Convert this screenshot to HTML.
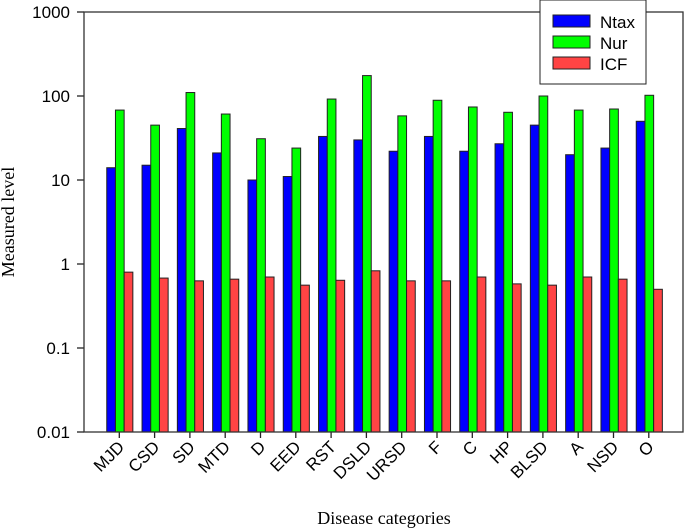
<!DOCTYPE html>
<html><head><meta charset="utf-8"><style>
body{margin:0;background:#fff}
svg{display:block}
</style></head><body>
<svg id="chart" width="685" height="530" xmlns="http://www.w3.org/2000/svg">
<g id="bars"></g>
<g id="axes"></g>
<text x="14" y="222" transform="rotate(-90 14 222)" text-anchor="middle" font-family="Liberation Serif, serif" font-size="18">Measured level</text>
<text x="384" y="524" text-anchor="middle" font-family="Liberation Serif, serif" font-size="18">Disease categories</text>
<g>
<rect x="540" y="0" width="106" height="84" fill="#fff" stroke="#222" stroke-width="1"/>
<rect x="553" y="15" width="37" height="12" fill="#0000ff" stroke="#222"/>
<text x="600" y="28" font-family="Liberation Sans, sans-serif" font-size="17">Ntax</text>
<rect x="553" y="36" width="37" height="12" fill="#00ff00" stroke="#222"/>
<text x="600" y="49" font-family="Liberation Sans, sans-serif" font-size="17">Nur</text>
<rect x="553" y="57" width="37" height="12" fill="#ff4444" stroke="#222"/>
<text x="600" y="70" font-family="Liberation Sans, sans-serif" font-size="17">ICF</text>
</g>
</svg>
<script>
const categories=["MJD","CSD","SD","MTD","D","EED","RST","DSLD","URSD","F","C","HP","BLSD","A","NSD","O"];
const ntax=[14,15,41,21,10,11,33,30,22,33,22,27,45,20,24,50];
const nur=[68,45,110,61,31,24,92,175,58,89,74,64,100,68,70,102];
const icf=[0.8,0.68,0.63,0.66,0.7,0.56,0.64,0.83,0.63,0.63,0.7,0.58,0.56,0.7,0.66,0.5];
const yTicks=[0.01,0.1,1,10,100,1000];
const yTickLabels=["0.01","0.1","1","10","100","1000"];

const NS="http://www.w3.org/2000/svg";
const L=84,R=683,T=12,B=432,step=35.3,bw=8.7;
function y(v){return T+(B-T)*(3-Math.log10(v))/5;}
function xc(i){return L+(i+1)*step;}
function mk(tag,attrs,parent){const e=document.createElementNS(NS,tag);for(const k in attrs)e.setAttribute(k,attrs[k]);parent.appendChild(e);return e;}
const bars=document.getElementById('bars'),axes=document.getElementById('axes');
const series=[[ntax,"#0000ff","ntax"],[nur,"#00ff00","nur"],[icf,"#ff4444","icf"]];
categories.forEach((c,i)=>{
  series.forEach((s,j)=>{
    const x0=xc(i)-1.5*bw+j*bw+0.5, yy=y(s[0][i]);
    const r=mk('rect',{x:x0,y:yy,width:bw,height:B-yy,fill:s[1],stroke:"#222","stroke-width":1},bars);
    
    
  });
  const t=mk('line',{x1:xc(i),x2:xc(i),y1:B,y2:B+6,stroke:"#222","stroke-width":1.3},axes);
  
  
  const lx=xc(i)+6,ly=B+16;
  const tl=mk('text',{x:lx,y:ly,transform:`rotate(-45 ${lx} ${ly})`,"text-anchor":"end","font-family":"Liberation Sans, sans-serif","font-size":"17"},axes);
  tl.textContent=c;
  
  
});
yTicks.forEach((v,k)=>{
  const t=mk('line',{x1:L-7,x2:L,y1:y(v),y2:y(v),stroke:"#222","stroke-width":1.3},axes);
  
  
  const tl=mk('text',{x:L-14,y:y(v)+6,"text-anchor":"end","font-family":"Liberation Sans, sans-serif","font-size":"17"},axes);
  tl.textContent=yTickLabels[k];
  
  
});
const frame=mk('rect',{x:L,y:T,width:R-L,height:B-T,fill:"none",stroke:"#333","stroke-width":1.3},axes);


</script>
</body></html>
